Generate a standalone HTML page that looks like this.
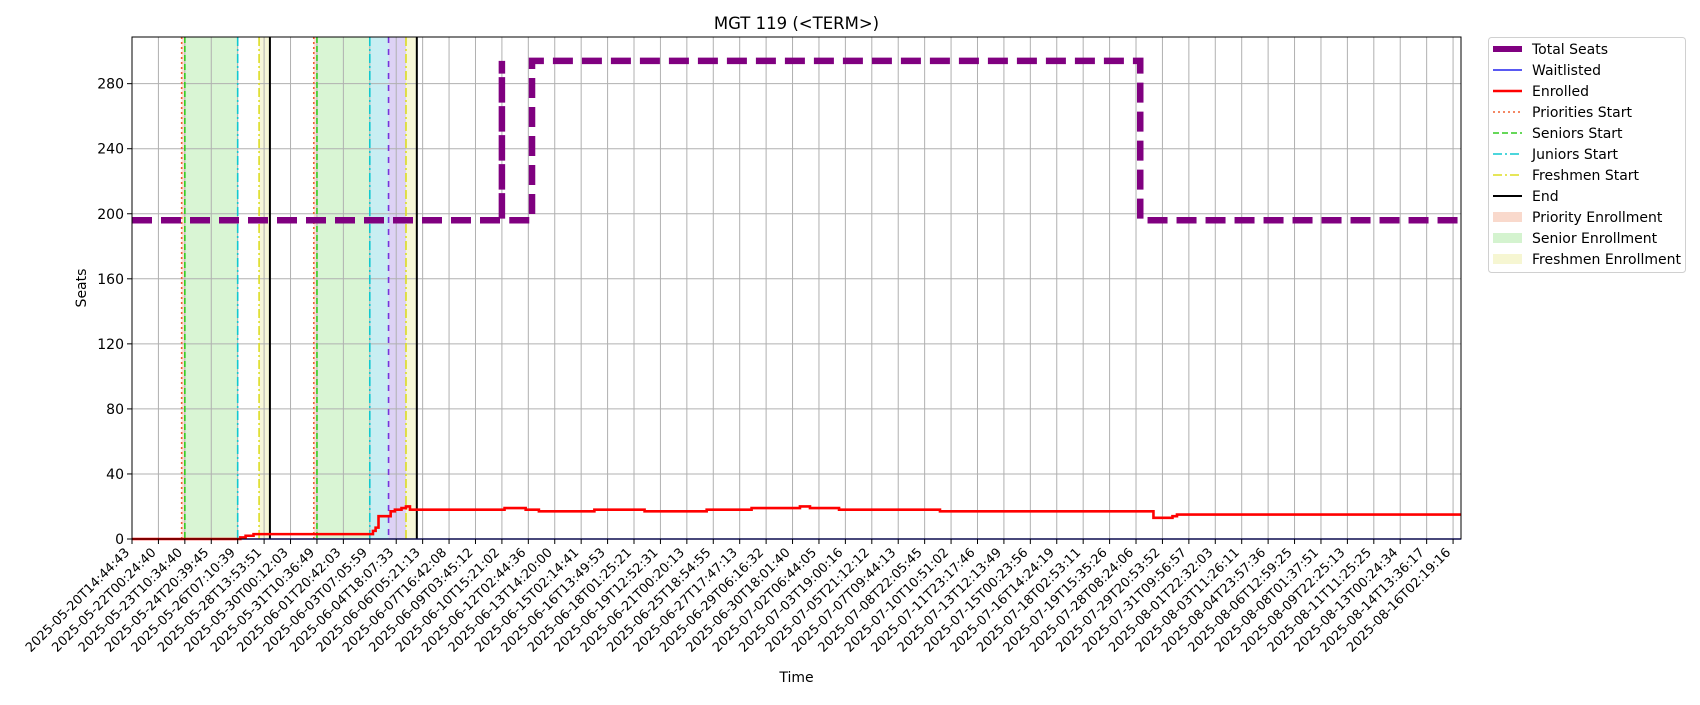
<!DOCTYPE html>
<html><head><meta charset="utf-8"><style>
html,body{margin:0;padding:0;background:#fff;}
svg text{font-family:"DejaVu Sans","Liberation Sans",sans-serif;fill:#000;}
</style></head><body>
<svg id="chart" width="1700" height="700" xmlns="http://www.w3.org/2000/svg">
<rect width="1700" height="700" fill="#fff"/>
<g id="spans"></g><g id="grid"></g><g id="vlines"></g><g id="series"></g><g id="axes"></g><g id="legend"></g>
</svg>
<script>
const tickLabels = ["2025-05-20T14:44:43","2025-05-22T00:24:40","2025-05-23T10:34:40","2025-05-24T20:39:45","2025-05-26T07:10:39","2025-05-28T13:53:51","2025-05-30T00:12:03","2025-05-31T10:36:49","2025-06-01T20:42:03","2025-06-03T07:05:59","2025-06-04T18:07:33","2025-06-06T05:21:13","2025-06-07T16:42:08","2025-06-09T03:45:12","2025-06-10T15:21:02","2025-06-12T02:44:36","2025-06-13T14:20:00","2025-06-15T02:14:41","2025-06-16T13:49:53","2025-06-18T01:25:21","2025-06-19T12:52:31","2025-06-21T00:20:13","2025-06-25T18:54:55","2025-06-27T17:47:13","2025-06-29T06:16:32","2025-06-30T18:01:40","2025-07-02T06:44:05","2025-07-03T19:00:16","2025-07-05T21:12:12","2025-07-07T09:44:13","2025-07-08T22:05:45","2025-07-10T10:51:02","2025-07-11T23:17:46","2025-07-13T12:13:49","2025-07-15T00:23:56","2025-07-16T14:24:19","2025-07-18T02:53:11","2025-07-19T15:35:26","2025-07-28T08:24:06","2025-07-29T20:53:52","2025-07-31T09:56:57","2025-08-01T22:32:03","2025-08-03T11:26:11","2025-08-04T23:57:36","2025-08-06T12:59:25","2025-08-08T01:37:51","2025-08-09T22:25:13","2025-08-11T11:25:25","2025-08-13T00:24:34","2025-08-14T13:36:17","2025-08-16T02:19:16"];
const yTicks = [0,40,80,120,160,200,240,280];
// step series: x in tick-index units
const seatsX = [0,14.0,14.0,15.14,38.16,50.3];
const seatsV = [196,294,196,294,196,196];
const enrolledX = [0,4.0,4.1,4.3,4.6,8.52,9.12,9.22,9.33,9.65,9.79,9.95,10.2,10.37,10.52,14.1,14.9,15.4,17.5,19.4,21.75,23.45,25.28,25.66,26.76,30.58,38.66,39.38,39.55,50.3];
const enrolledV = [0,0,1,2,3,3,5,7,14,14,17,18,19,20,18,19,18,17,18,17,18,19,20,19,18,17,13,14,15,15];
const waitX = [0,50.3];
const waitV = [0,0];
const priorityStarts = [1.88,6.88];
const seniorStarts = [2.0,7.0];
const juniorStarts = [4.0,9.0];
const sophStarts = [9.71];
const freshStarts = [4.81,10.37];
const endTimes = [5.22,10.78];

const L=132,R=1461,T=37,B=539,XMAX=50.3,YMAX=308.7;
const X=u=>L+u*(R-L)/XMAX;
const Y=v=>B-v*(B-T)/YMAX;
const NS="http://www.w3.org/2000/svg";
function mk(parent,tag,attrs,text){const e=document.createElementNS(NS,tag);for(const k in attrs)e.setAttribute(k,attrs[k]);if(text!==undefined)e.textContent=text;document.getElementById(parent).appendChild(e);return e;}
function stepPath(xs,vs){let d="M"+X(xs[0])+","+Y(vs[0]);for(let i=1;i<xs.length;i++){d+=" L"+X(xs[i])+","+Y(vs[i-1])+" L"+X(xs[i])+","+Y(vs[i]);}return d;}

function span(a,b,color,name){const r=mk("spans","rect",{x:X(a),y:T,width:X(b)-X(a),height:B-T,fill:color});

}
for(let i=0;i<priorityStarts.length;i++){
 span(priorityStarts[i],seniorStarts[i],"#fbe0d6","priority-enrollment-span");
 span(seniorStarts[i],juniorStarts[i],"#d9f5d4","senior-enrollment-span");
}
span(juniorStarts[1],sophStarts[0],"#c8eef2","junior-enrollment-span");
span(sophStarts[0],freshStarts[1],"#ddd2f5","sophomore-enrollment-span");
span(freshStarts[0],endTimes[0],"#f7f7d8","freshmen-enrollment-span");
span(freshStarts[1],endTimes[1],"#f7f7d8","freshmen-enrollment-span");

tickLabels.forEach((t,i)=>{const g=mk("grid","line",{x1:X(i),x2:X(i),y1:T,y2:B,stroke:"#b0b0b0","stroke-width":1});

});
yTicks.forEach(v=>{const g=mk("grid","line",{x1:L,x2:R,y1:Y(v),y2:Y(v),stroke:"#b0b0b0","stroke-width":1});

});

function vl(arr,color,dash,w,name){arr.forEach(u=>{const l=mk("vlines","line",{x1:X(u),x2:X(u),y1:T,y2:B,stroke:color,"stroke-width":w,"stroke-dasharray":dash});

});}
vl(priorityStarts,"#f06030","2,3",1.6,"priorities-start-line");
vl(seniorStarts,"#33cc22","6,3",1.6,"seniors-start-line");
vl(juniorStarts,"#11c8d0","9,3,2,3",1.6,"juniors-start-line");
vl(sophStarts,"#7733dd","6,6",1.6,"sophomores-start-line");
vl(freshStarts,"#dddd22","9,3,2,3",1.6,"freshmen-start-line");
vl(endTimes,"#000","none",2,"end-line");

const s1=mk("series","path",{d:stepPath(waitX,waitV),fill:"none",stroke:"#2222ee","stroke-width":1.5});


const s2=mk("series","path",{d:stepPath(enrolledX,enrolledV),fill:"none",stroke:"#ff0000","stroke-width":2.6});


const s3=mk("series","path",{d:stepPath(seatsX,seatsV),fill:"none",stroke:"#800080","stroke-width":6.5,"stroke-dasharray":"20,9"});



const fr=mk("axes","rect",{x:L,y:T,width:R-L,height:B-T,fill:"none",stroke:"#000","stroke-width":1});


yTicks.forEach(v=>{mk("axes","line",{x1:L-5,x2:L,y1:Y(v),y2:Y(v),stroke:"#000"});
const t=mk("axes","text",{x:L-8,y:Y(v)+5,"text-anchor":"end","font-size":14},String(v));

});
tickLabels.forEach((s,i)=>{mk("axes","line",{x1:X(i),x2:X(i),y1:B,y2:B+5,stroke:"#000"});
const x=X(i)-8,y=B+8;
const t=mk("axes","text",{transform:`translate(${x},${y}) rotate(-45)`,"text-anchor":"end","dominant-baseline":"hanging","font-size":12.9},s);

});
const ti=mk("axes","text",{x:(L+R)/2,y:29,"text-anchor":"middle","font-size":16.5},"MGT 119 (<TERM>)");


const xt=mk("axes","text",{x:(L+R)/2,y:682,"text-anchor":"middle","font-size":14},"Time");


const yt=mk("axes","text",{transform:`translate(86,${(T+B)/2}) rotate(-90)`,"text-anchor":"middle","font-size":14},"Seats");



const lb=mk("legend","rect",{x:1488.5,y:37.5,width:197,height:235,rx:3,fill:"#fff",stroke:"#d0d0d0"});


const entries=[
 ["Total Seats","line","#800080",6,"none"],
 ["Waitlisted","line","#2222ee",1.5,"none"],
 ["Enrolled","line","#ff0000",2.6,"none"],
 ["Priorities Start","line","#f06030",1.6,"2,3"],
 ["Seniors Start","line","#33cc22",1.6,"6,3"],
 ["Juniors Start","line","#11c8d0",1.6,"9,3,2,3"],
 ["Freshmen Start","line","#dddd22",1.6,"9,3,2,3"],
 ["End","line","#000",2,"none"],
 ["Priority Enrollment","patch","#f9d9cc"],
 ["Senior Enrollment","patch","#d4f3cf"],
 ["Freshmen Enrollment","patch","#f6f6d2"]];
entries.forEach((e,i)=>{const cy=49+i*21;
 if(e[1]==="line"){mk("legend","line",{x1:1493,x2:1522,y1:cy,y2:cy,stroke:e[2],"stroke-width":e[3],"stroke-dasharray":e[4]});}
 else{mk("legend","rect",{x:1493,y:cy-5,width:29,height:10,fill:e[2]});}
 const t=mk("legend","text",{x:1532,y:cy+5,"font-size":14},e[0]);
 
 
});
</script>
</body></html>
